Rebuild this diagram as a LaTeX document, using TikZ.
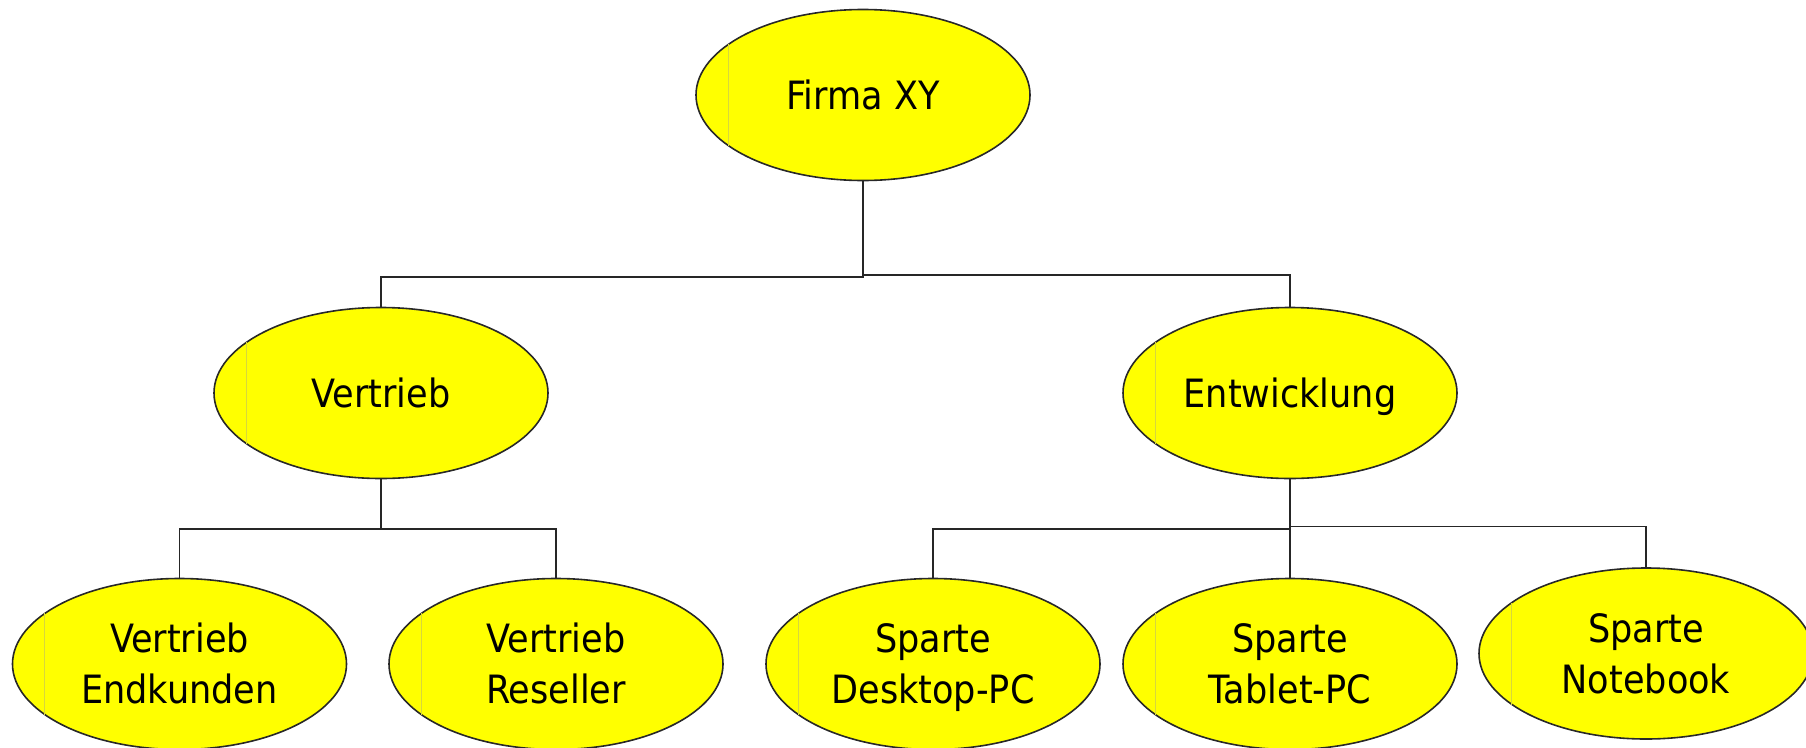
\documentclass[tikz,border=0pt]{standalone}
\usepackage{fontspec}
\setmainfont{DejaVu Sans Condensed}
\usetikzlibrary{shapes.geometric}
\definecolor{boxfill}{RGB}{255,255,0}
\definecolor{boxline}{RGB}{40,40,40}
\definecolor{seam}{RGB}{215,215,60}
\tikzset{
  unit/.style={ellipse, draw=boxline, line width=1.6pt, fill=boxfill,
    minimum width=334pt, minimum height=171pt, inner sep=0pt,
    align=center, font=\fontsize{39}{51}\selectfont},
  link/.style={draw=black!85, line width=1.4pt},
}
% labels: every line gets the same cap-height box, so descenders do not shift the text
\newcommand{\oneline}[1]{\smash{#1}\rule{0pt}{28pt}}
\newcommand{\twolines}[2]{\smash{#1}\rule{0pt}{28pt}\\\smash{#2}}
\newcommand{\seamline}[1]{%
  \draw[seam, line width=1pt] ([xshift=33pt,yshift=51pt]#1.west) -- ([xshift=33pt,yshift=-51pt]#1.west);}
\begin{document}
\begin{tikzpicture}[x=1pt,y=-1pt]
\useasboundingbox (0,0) rectangle (1806,747);
% organisation units
\node[unit] (firma)  at (863,95)     {\oneline{Firma XY}};
\node[unit] (vert)   at (381,393)    {\oneline{Vertrieb}};
\node[unit] (entw)   at (1290,393)   {\oneline{Entwicklung}};
\node[unit] (endk)   at (179.5,664)  {\twolines{Vertrieb}{Endkunden}};
\node[unit] (resel)  at (556,664)    {\twolines{Vertrieb}{Reseller}};
\node[unit] (desk)   at (933,664)    {\twolines{Sparte}{Desktop-PC}};
\node[unit] (tablet) at (1290,664)   {\twolines{Sparte}{Tablet-PC}};
\node[unit] (note)   at (1646,653.5) {\twolines{Sparte}{Notebook}};
\foreach \n in {firma,vert,entw,endk,resel,desk,tablet,note}{\seamline{\n}}
% branch points
\coordinate (jl) at (863,277);
\coordinate (jr) at (863,275);
\coordinate (jv) at (381,529);
\coordinate (je) at (1290,529);
\coordinate (jn) at (1290,526.5);
% connectors
\draw[link] (firma.south) -- (jl) -| (vert.north);
\draw[link] (jr) -| (entw.north);
\draw[link] (vert.south) -- (jv);
\draw[link] (endk.north) |- (jv) -| (resel.north);
\draw[link] (entw.south) -- (tablet.north);
\draw[link] (je) -| (desk.north);
\draw[link] (jn) -| (note.north);
\end{tikzpicture}
\end{document}
